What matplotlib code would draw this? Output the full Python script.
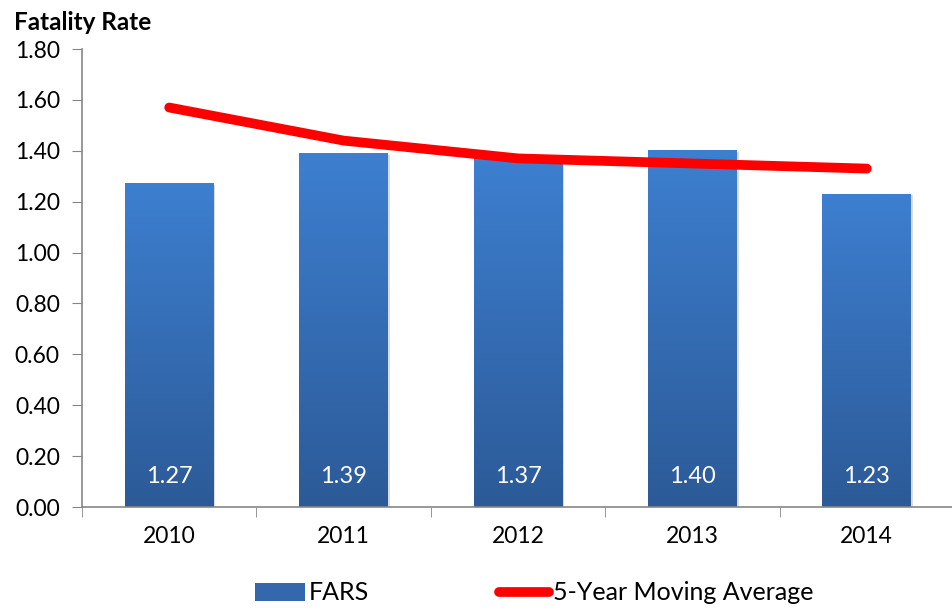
import numpy as np
import matplotlib
matplotlib.use("Agg")
import matplotlib.pyplot as plt
from matplotlib.patches import Patch
from matplotlib.lines import Line2D
from matplotlib.colors import LinearSegmentedColormap

years = ["2010", "2011", "2012", "2013", "2014"]
fars = [1.27, 1.39, 1.37, 1.40, 1.23]
moving_avg = [1.57, 1.44, 1.37, 1.35, 1.33]
yticks = [0.0, 0.2, 0.4, 0.6, 0.8, 1.0, 1.2, 1.4, 1.6, 1.8]

plt.rcParams['font.family'] = ['Lato', 'DejaVu Sans']

fig = plt.figure(figsize=(9.52, 6.10), dpi=100)
ax = fig.add_axes([82/952, 103/610, 872/952, 458/610])

x = np.arange(len(years))
width = 0.51
bars = ax.bar(x, fars, width=width, color='none', zorder=2)

cmap = LinearSegmentedColormap.from_list('g', ['#2c5a97', '#3d7fd0'])
grad = np.linspace(0, 1, 256).reshape(-1, 1)
for b in bars:
    x0, y0 = b.get_x(), b.get_y()
    w, h = b.get_width(), b.get_height()
    ax.bar(x0 + w/2 + 0.01, h, width=w, bottom=-0.005, color='#dcdcdc', zorder=1.5)
    ax.imshow(grad, extent=[x0, x0 + w, 0, h], origin='lower', cmap=cmap,
              aspect='auto', zorder=2)

for xi, v in zip(x, fars):
    ax.text(xi, 0.12, f"{v:.2f}", ha='center', va='center', color='white',
            fontsize=17, zorder=4)

ax.plot(x, moving_avg, color='#ff0000', lw=7, solid_capstyle='round',
        solid_joinstyle='round', zorder=3)

ax.set_xlim(-0.5, 4.5)
ax.set_ylim(0, 1.8)
ax.set_yticks(yticks)
ax.set_yticklabels([f"{t:.2f}" for t in yticks], fontsize=16.5)
ax.set_xticks(x)
ax.set_xticklabels(years, fontsize=16.5)
ax.set_xticks(np.arange(-0.5, 5.0, 1.0), minor=True)
ax.tick_params(axis='x', which='major', length=0, pad=14)
ax.tick_params(axis='x', which='minor', length=7, color='#868686', direction='out')
ax.tick_params(axis='y', length=7, color='#868686', direction='out', pad=9)
for s in ['top', 'right']:
    ax.spines[s].set_visible(False)
for s in ['left', 'bottom']:
    ax.spines[s].set_color('#868686')
    ax.spines[s].set_linewidth(1.2)

fig.text(14/952, 1 - 22/610, "Fatality Rate", fontsize=17.5, fontweight='bold',
         ha='left', va='center')

handles = [Patch(facecolor='#3567ad', edgecolor='none'),
           Line2D([0], [0], color='#ff0000', lw=7, solid_capstyle='round')]
fig.legend(handles, ["FARS", "5-Year Moving Average"], loc='center',
           bbox_to_anchor=(0.561, 1 - 593/610), ncol=2, frameon=False,
           fontsize=18, handlelength=2.0, handletextpad=0.15,
           columnspacing=5.2, handleheight=0.75)

fig.savefig("out.png", dpi=100)
